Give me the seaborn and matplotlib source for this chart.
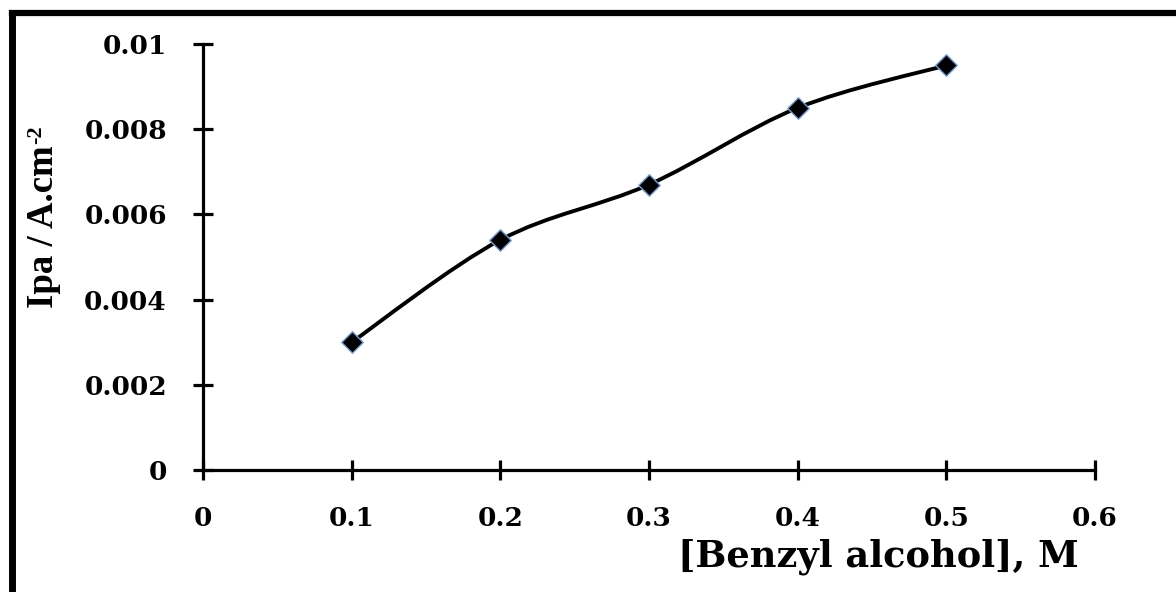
import numpy as np
import matplotlib
matplotlib.use("Agg")
import matplotlib.pyplot as plt
import seaborn as sns
from matplotlib.path import Path
from matplotlib.patches import PathPatch
from matplotlib.lines import Line2D
import pandas as pd

# Data
concentration = [0.1, 0.2, 0.3, 0.4, 0.5]
ipa = [0.0030, 0.0054, 0.0067, 0.0085, 0.0095]
x_ticks = [0, 0.1, 0.2, 0.3, 0.4, 0.5, 0.6]
x_tick_labels = ["0", "0.1", "0.2", "0.3", "0.4", "0.5", "0.6"]
y_ticks = [0, 0.002, 0.004, 0.006, 0.008, 0.01]
y_tick_labels = ["0", "0.002", "0.004", "0.006", "0.008", "0.01"]

sns.set_theme(style="white")
plt.rcParams['font.family'] = ['DejaVu Serif', 'Liberation Serif']
plt.rcParams['font.weight'] = 'bold'

fig = plt.figure(figsize=(11.76, 5.92), dpi=100)
ax = fig.add_axes([203/1176, 1-470/592, (1095-203)/1176, (470-44)/592])

df = pd.DataFrame({"c": concentration, "i": ipa})

# Smooth (Catmull-Rom style Bezier) line through the data points
pts = np.column_stack([concentration, ipa])
n = len(pts)
verts = [tuple(pts[0])]
codes = [Path.MOVETO]
for k in range(n - 1):
    p0 = pts[k - 1] if k > 0 else pts[k]
    p1 = pts[k]
    p2 = pts[k + 1]
    p3 = pts[k + 2] if k + 2 < n else pts[k + 1]
    c1 = p1 + (p2 - p0) / 6.0
    c2 = p2 - (p3 - p1) / 6.0
    verts += [tuple(c1), tuple(c2), tuple(p2)]
    codes += [Path.CURVE4] * 3
ax.add_patch(PathPatch(Path(verts, codes), facecolor='none', edgecolor='black', lw=2.8, zorder=2))

sns.scatterplot(data=df, x="c", y="i", ax=ax, marker='D', s=120, color='black',
                edgecolor='#6f9fd8', linewidth=1.0, zorder=3, legend=False)

ax.set_xlim(0, 0.6)
ax.set_ylim(0, 0.01)
ax.set_xticks(x_ticks)
ax.set_xticklabels(x_tick_labels)
ax.set_yticks(y_ticks)
ax.set_yticklabels(y_tick_labels)

for side in ['top', 'right']:
    ax.spines[side].set_visible(False)
for side in ['left', 'bottom']:
    ax.spines[side].set_visible(True)
    ax.spines[side].set_color('black')
    ax.spines[side].set_linewidth(2.3)

ax.tick_params(axis='both', which='major', bottom=True, left=True, direction='inout',
               length=14, width=2.3, colors='black', labelsize=19)
ax.tick_params(axis='x', pad=19)
ax.tick_params(axis='y', pad=19)
for lab in ax.get_xticklabels() + ax.get_yticklabels():
    lab.set_fontweight('bold')

ax.set_xlabel("[Benzyl alcohol], M", fontsize=26.5, fontweight='bold', color='black')
ax.xaxis.set_label_coords((878-203)/(1095-203), -(557-470)/(470-44))
ax.xaxis.label.set_va('center')

ylab_font = dict(family=['Liberation Serif', 'DejaVu Serif'], fontweight='bold', color='black')
ax.set_ylabel("Ipa / A.cm", fontsize=26.5, **ylab_font)
ax.yaxis.set_label_coords(-(203-43)/(1095-203), (470-227)/(470-44))
ax.yaxis.label.set_va('center')
ax.grid(False)

# superscript "-2" placed after the rotated y label
fig.canvas.draw()
bb = ax.yaxis.label.get_window_extent()
fig.text((bb.x0 + bb.width * 0.3) / fig.bbox.width, (bb.y1 + 2) / fig.bbox.height, "-2",
         rotation=90, fontsize=16, ha='center', va='bottom', **ylab_font)

# Outer frame
fig.add_artist(Line2D([11.5/1176, 11.5/1176], [0, 1-13/592], transform=fig.transFigure,
                      color='black', lw=5, solid_capstyle='projecting'))
fig.add_artist(Line2D([11.5/1176, 1.0], [1-13/592, 1-13/592], transform=fig.transFigure,
                      color='black', lw=4.5, solid_capstyle='projecting'))

fig.savefig("out.png", dpi=100)
